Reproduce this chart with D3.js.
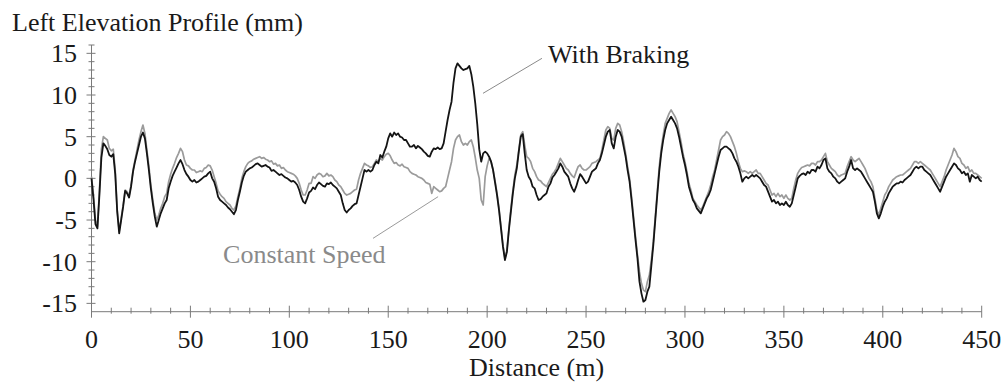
<!DOCTYPE html>
<html><head><meta charset="utf-8">
<script src="https://cdn.jsdelivr.net/npm/d3@7"></script>
<style>
html,body{margin:0;padding:0;background:#fff;}
svg{display:block;font-family:"Liberation Serif","Times New Roman",serif;}
</style></head>
<body><svg id="chart" width="1005" height="383"></svg>
<script>
const distance = [
0,1,2,3,4,5,6,7,8,9,10,11,12,13,14,15,16,17,18,19,20,21,22,23,24,25,26,27,28,29,
30,31,32,33,34,35,36,37,38,39,40,41,42,43,44,45,46,47,48,49,50,51,52,53,54,55,56,57,58,59,
60,61,62,63,64,65,66,67,68,69,70,71,72,73,74,75,76,77,78,79,80,81,82,83,84,85,86,87,88,89,
90,91,92,93,94,95,96,97,98,99,100,101,102,103,104,105,106,107,108,109,110,111,112,113,114,115,116,117,118,119,
120,121,122,123,124,125,126,127,128,129,130,131,132,133,134,135,136,137,138,139,140,141,142,143,144,145,146,147,148,149,
150,151,152,153,154,155,156,157,158,159,160,161,162,163,164,165,166,167,168,169,170,171,172,173,174,175,176,177,178,179,
180,181,182,183,184,185,186,187,188,189,190,191,192,193,194,195,196,197,198,199,200,201,202,203,204,205,206,207,208,209,
210,211,212,213,214,215,216,217,218,219,220,221,222,223,224,225,226,227,228,229,230,231,232,233,234,235,236,237,238,239,
240,241,242,243,244,245,246,247,248,249,250,251,252,253,254,255,256,257,258,259,260,261,262,263,264,265,266,267,268,269,
270,271,272,273,274,275,276,277,278,279,280,281,282,283,284,285,286,287,288,289,290,291,292,293,294,295,296,297,298,299,
300,301,302,303,304,305,306,307,308,309,310,311,312,313,314,315,316,317,318,319,320,321,322,323,324,325,326,327,328,329,
330,331,332,333,334,335,336,337,338,339,340,341,342,343,344,345,346,347,348,349,350,351,352,353,354,355,356,357,358,359,
360,361,362,363,364,365,366,367,368,369,370,371,372,373,374,375,376,377,378,379,380,381,382,383,384,385,386,387,388,389,
390,391,392,393,394,395,396,397,398,399,400,401,402,403,404,405,406,407,408,409,410,411,412,413,414,415,416,417,418,419,
420,421,422,423,424,425,426,427,428,429,430,431,432,433,434,435,436,437,438,439,440,441,442,443,444,445,446,447,448,449,
450];

const withBraking = [
0.0,-2.5,-5.5,-6.0,-2.0,2.5,4.2,3.9,3.5,2.8,
2.6,2.9,0.5,-4.0,-6.6,-5.0,-3.4,-1.5,-1.8,-2.3,
-1.0,0.8,2.0,3.0,4.0,5.0,5.5,4.8,3.0,1.0,
-1.2,-3.0,-4.6,-5.8,-5.0,-4.2,-3.6,-3.0,-2.6,-1.2,
-0.4,0.3,0.8,1.3,1.8,2.2,1.7,1.0,0.5,0.2,
-0.2,-0.4,-0.2,-0.5,-0.4,-0.2,0.0,0.2,0.3,0.6,
0.8,0.0,-0.4,-1.2,-2.2,-2.6,-2.8,-3.0,-3.2,-3.5,
-3.7,-4.0,-4.3,-3.8,-2.6,-1.6,-0.5,0.3,0.8,1.0,
1.2,1.3,1.5,1.7,1.8,1.6,1.4,1.5,1.6,1.4,
1.3,0.9,1.0,0.8,0.6,0.4,0.5,0.3,0.1,0.0,
-0.2,-0.4,-0.3,-0.5,-0.8,-1.4,-2.2,-2.8,-3.0,-2.4,
-1.7,-1.5,-1.1,-1.3,-0.8,-0.5,-0.7,-0.9,-1.0,-0.6,
-0.7,-0.5,-0.8,-1.0,-1.2,-1.6,-2.0,-3.0,-3.8,-4.1,
-3.8,-3.6,-3.3,-3.1,-3.0,-2.0,-1.0,0.0,1.0,0.8,
1.0,0.8,1.0,1.6,2.0,1.8,2.8,2.5,3.2,3.8,
4.8,5.4,5.0,5.5,5.2,5.4,5.0,4.9,4.6,4.6,
4.2,3.8,3.8,4.0,3.6,3.9,3.7,3.5,3.2,3.0,
2.7,2.6,3.2,3.6,3.5,3.7,3.5,3.6,4.2,5.6,
7.0,8.2,9.2,11.5,13.2,13.8,13.5,13.2,13.0,13.1,
13.2,13.5,12.5,11.0,9.0,6.5,3.5,2.0,3.0,3.2,
3.0,2.6,2.0,1.0,-0.5,-2.0,-3.8,-6.0,-8.2,-9.8,
-8.8,-6.2,-4.0,-1.8,0.0,1.2,3.2,5.0,5.3,3.0,
1.0,0.2,-0.2,-1.0,-1.2,-2.0,-2.6,-2.5,-2.2,-2.0,
-1.8,-1.0,-0.6,0.1,0.4,0.8,1.2,1.8,1.4,0.8,
0.5,0.2,-0.6,-1.2,-1.6,-1.0,-0.2,0.5,0.2,-0.2,
-0.6,-0.4,0.2,0.8,1.0,1.2,1.8,2.2,3.0,4.0,
5.0,5.6,5.8,4.2,3.6,5.0,5.8,5.6,5.0,3.8,
2.6,1.0,-0.4,-2.6,-5.0,-7.4,-9.6,-12.4,-13.8,-14.8,
-14.6,-13.6,-13.0,-10.5,-8.0,-5.0,-2.0,0.8,3.0,4.6,
5.8,6.6,7.0,7.4,7.0,6.6,6.0,5.0,3.8,2.6,
1.6,0.4,-1.0,-1.8,-2.6,-3.0,-3.6,-3.9,-4.2,-3.6,
-3.0,-2.4,-2.0,-1.4,-0.4,0.6,1.6,2.6,3.4,3.6,
3.8,3.8,3.6,3.4,3.0,2.4,2.0,1.4,0.6,-0.4,
0.0,0.2,0.0,0.2,0.4,0.2,0.4,0.2,0.0,-0.4,
-0.8,-1.0,-1.6,-2.2,-2.8,-2.6,-3.0,-2.8,-3.2,-3.0,
-3.2,-2.8,-3.2,-3.4,-3.0,-2.0,-1.0,0.0,0.3,0.5,
0.6,0.4,0.8,0.6,1.0,1.0,0.8,1.4,1.2,1.6,
2.2,2.4,1.2,0.8,0.6,0.2,0.0,-0.4,-0.6,-0.4,
-0.2,0.0,0.8,1.4,2.2,1.2,1.0,1.2,1.0,0.8,
0.4,0.0,-0.4,-0.8,-1.2,-1.6,-2.8,-4.2,-4.8,-4.2,
-3.4,-2.8,-2.4,-1.8,-1.4,-1.0,-0.8,-0.6,-0.6,-0.4,
-0.5,-0.2,0.0,0.2,0.4,0.8,1.2,1.4,1.2,1.4,
1.4,1.0,0.8,0.6,0.4,0.0,-0.4,-0.8,-1.2,-1.6,
-1.0,-0.4,0.2,0.6,1.0,1.4,1.8,1.6,1.2,1.0,
0.6,0.8,0.4,0.6,-0.4,0.4,0.2,0.0,0.2,-0.2,
-0.4];

const constantSpeed = [
0.2,-2.0,-5.0,-5.8,-1.5,3.5,5.0,4.8,4.6,3.6,
3.3,3.5,1.0,-3.8,-6.3,-4.8,-3.2,-1.4,-1.6,-2.1,
-0.8,1.0,2.2,3.4,4.6,5.6,6.4,5.4,3.4,1.5,
-0.8,-2.6,-4.2,-5.0,-4.4,-3.6,-3.0,-2.2,-1.8,-0.4,
0.5,1.2,1.8,2.5,3.0,3.6,3.2,2.2,1.6,1.5,
1.2,1.0,1.0,0.7,0.8,0.9,0.8,1.2,1.3,1.6,
1.5,1.0,0.2,-0.6,-1.5,-1.9,-2.2,-2.4,-2.8,-3.0,
-3.2,-3.6,-3.8,-3.3,-2.2,-1.2,0.0,0.8,1.4,1.8,
2.0,2.1,2.3,2.4,2.5,2.6,2.4,2.5,2.3,2.2,
2.0,2.1,1.7,1.8,1.5,1.6,1.2,1.3,1.0,0.8,
0.7,0.6,0.5,0.3,0.0,-0.6,-1.4,-2.0,-2.0,-1.4,
-0.6,-0.6,0.2,0.0,0.4,0.6,0.5,0.2,0.3,0.6,
0.3,0.4,0.2,-0.2,-0.4,-0.8,-1.0,-1.4,-1.8,-2.0,
-1.9,-1.8,-1.6,-1.4,-1.3,-0.2,0.6,1.2,1.8,1.6,
1.5,1.3,1.4,1.8,2.2,2.0,2.4,2.2,2.6,2.9,
3.0,2.7,2.2,1.8,1.9,1.6,1.5,1.7,1.4,1.3,
1.2,0.8,0.6,0.5,0.4,0.2,0.1,0.0,-0.2,-0.5,
-0.6,-0.7,-1.8,-1.0,-1.2,-1.4,-1.6,-1.5,-1.2,-1.0,
0.0,1.0,2.0,3.6,4.6,5.0,5.2,4.4,4.0,4.2,
4.0,4.4,4.6,3.8,2.5,1.0,0.0,-2.6,-3.2,0.2,
1.5,2.4,2.0,1.0,-0.3,-1.8,-3.6,-5.8,-8.0,-9.6,
-8.6,-6.0,-3.6,-1.5,0.4,1.6,3.4,5.2,5.6,4.0,
2.6,2.4,2.0,1.2,0.8,0.2,-0.2,-0.3,-0.6,-0.8,
-1.0,-0.5,0.0,0.5,0.8,1.2,1.8,2.4,2.0,1.6,
1.2,1.0,0.6,0.3,0.1,0.8,1.4,1.6,1.2,1.0,
1.0,1.2,1.4,1.8,1.9,2.0,2.2,2.4,3.4,4.6,
5.8,6.2,6.0,4.8,4.6,6.0,6.6,6.4,5.6,4.4,
3.0,1.4,0.0,-2.2,-4.6,-7.0,-9.2,-11.2,-12.6,-13.4,
-13.6,-12.4,-11.6,-9.8,-7.6,-4.6,-1.6,1.4,3.6,5.2,
6.6,7.2,7.8,8.2,7.8,7.4,6.8,5.6,4.4,3.0,
2.0,0.8,-0.6,-1.4,-2.4,-2.8,-3.2,-3.5,-3.8,-3.4,
-2.8,-2.2,-1.6,-0.8,0.2,1.0,2.2,3.4,4.6,5.0,
5.2,5.6,5.4,5.0,4.4,3.8,3.0,2.0,1.2,0.8,
0.9,0.8,0.6,0.8,0.6,0.8,1.0,0.6,0.6,0.2,
-0.2,-0.6,-0.8,-1.4,-2.0,-1.8,-2.2,-1.8,-2.2,-2.0,
-2.4,-2.0,-2.4,-2.6,-2.4,-1.2,-0.2,0.6,1.0,1.3,
1.4,1.5,1.6,1.5,1.8,1.8,1.6,2.0,2.0,2.2,
2.6,3.0,2.0,1.6,1.2,1.0,0.8,0.4,0.2,0.4,
0.5,0.6,1.4,2.0,2.6,2.2,2.0,2.2,2.4,2.0,
1.6,1.2,0.6,0.0,-0.4,-1.0,-2.4,-3.8,-4.4,-3.6,
-2.8,-2.0,-1.6,-1.0,-0.6,-0.2,0.0,0.2,0.3,0.4,
0.4,0.6,0.8,1.0,1.2,1.6,2.0,2.0,1.8,2.0,
1.8,1.6,1.4,1.2,1.0,0.6,0.2,-0.2,-0.6,-1.0,
-0.4,0.2,1.0,1.6,2.2,2.8,3.6,3.2,2.6,2.4,
1.8,1.6,1.2,1.4,0.8,1.0,0.6,0.6,0.4,0.2,
0.0];

const xTicks = [0,50,100,150,200,250,300,350,400,450];
const yTicks = [-15,-10,-5,0,5,10,15];
const xMinorTicks = [10,20,30,40,60,70,80,90,110,120,130,140,160,170,180,190,210,220,230,240,260,270,280,290,310,320,330,340,360,370,380,390,410,420,430,440];
const yMinorTicks = [-14,-13,-12,-11,-9,-8,-7,-6,-4,-3,-2,-1,1,2,3,4,6,7,8,9,11,12,13,14,16];
const titleText = "Left Elevation Profile (mm)";
const xTitle = "Distance (m)";
const labelBraking = "With Braking";
const labelConstant = "Constant Speed";

const svg = d3.select("#chart");
const x = d3.scaleLinear().domain([0,450]).range([91.5,981.7]);
const y = d3.scaleLinear().domain([-16,16]).range([311.7,45]);
const axisColor = "#7a7a7a";
const fontSize = 26;

// y axis
svg.append("line").attr("x1",x(0)).attr("x2",x(0)).attr("y1",y(-16)).attr("y2",y(16))
  .attr("stroke",axisColor).attr("stroke-width",1);
svg.append("g").selectAll("line").data(yMinorTicks).join("line")
  .attr("x1",x(0)-3).attr("x2",x(0)+3).attr("y1",d=>y(d)).attr("y2",d=>y(d))
  .attr("stroke",axisColor).attr("stroke-width",1);
svg.append("g").selectAll("line").data(yTicks).join("line")
  .attr("x1",x(0)-5).attr("x2",x(0)+4).attr("y1",d=>y(d)).attr("y2",d=>y(d))
  .attr("stroke",axisColor).attr("stroke-width",1);
svg.append("g").selectAll("text").data(yTicks).join("text")
  .attr("x",77).attr("y",d=>y(d)).attr("dy","0.35em")
  .attr("text-anchor","end").attr("font-size",fontSize).attr("fill","#1a1a1a")
  .text(d=>d);

// x axis
svg.append("line").attr("x1",x(0)).attr("x2",x(450)).attr("y1",y(-16)).attr("y2",y(-16))
  .attr("stroke",axisColor).attr("stroke-width",1);
svg.append("g").selectAll("line").data(xMinorTicks).join("line")
  .attr("x1",d=>x(d)).attr("x2",d=>x(d)).attr("y1",y(-16)-4).attr("y2",y(-16)+2)
  .attr("stroke",axisColor).attr("stroke-width",1);
svg.append("g").selectAll("line").data(xTicks).join("line")
  .attr("x1",d=>x(d)).attr("x2",d=>x(d)).attr("y1",y(-16)-6).attr("y2",y(-16)+6)
  .attr("stroke",axisColor).attr("stroke-width",1);
svg.append("g").selectAll("text").data(xTicks).join("text")
  .attr("x",d=>x(d)).attr("y",348)
  .attr("text-anchor","middle").attr("font-size",fontSize).attr("fill","#1a1a1a")
  .text(d=>d);

// titles
svg.append("text").attr("x",12).attr("y",31).attr("font-size",fontSize).attr("fill","#1a1a1a").text(titleText);
svg.append("text").attr("x",(x(0)+x(450))/2).attr("y",376).attr("text-anchor","middle")
  .attr("font-size",fontSize).attr("fill","#1a1a1a").text(xTitle);

// lines
const rowsB = distance.map((d,i)=>({d:d,v:withBraking[i]}));
const rowsC = distance.map((d,i)=>({d:d,v:constantSpeed[i]}));
const line = d3.line().x(p=>x(p.d)).y(p=>y(p.v));
svg.append("path").datum(rowsC).attr("d",line).attr("fill","none")
  .attr("stroke","#9b9b9b").attr("stroke-width",1.7).attr("stroke-linejoin","round");
svg.append("path").datum(rowsB).attr("d",line).attr("fill","none")
  .attr("stroke","#141414").attr("stroke-width",1.8).attr("stroke-linejoin","round");

// annotations
svg.append("line").attr("x1",x(197.9)).attr("y1",y(10.2)).attr("x2",x(227.7)).attr("y2",y(14.4))
  .attr("stroke","#8a8a8a").attr("stroke-width",1);
svg.append("text").attr("x",x(230.8)).attr("y",y(13.8)).attr("font-size",fontSize).attr("fill","#1a1a1a").text(labelBraking);
svg.append("line").attr("x1",x(142.3)).attr("y1",y(-7.2)).attr("x2",x(175.2)).attr("y2",y(-2.2))
  .attr("stroke","#9a9a9a").attr("stroke-width",1);
svg.append("text").attr("x",x(66.5)).attr("y",y(-10.1)).attr("font-size",fontSize).attr("fill","#8a8a8a").text(labelConstant);
</script></body></html>
